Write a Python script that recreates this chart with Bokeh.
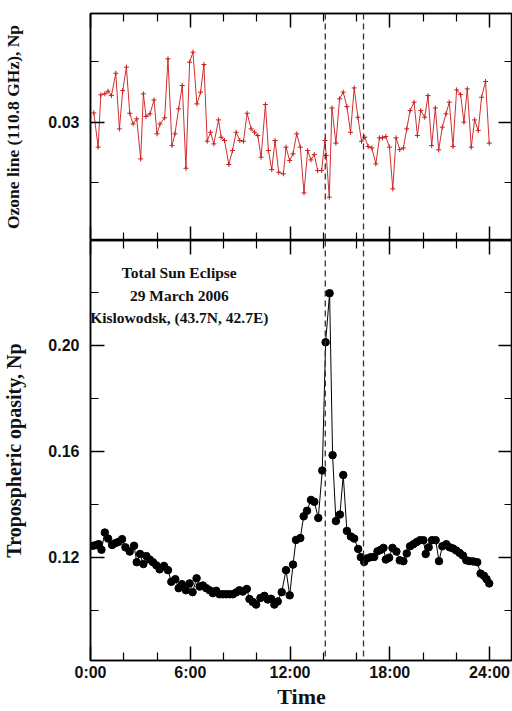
from bokeh.plotting import figure
from bokeh.layouts import column
from bokeh.models import (Range1d, LinearAxis, FixedTicker, CustomJSTickFormatter,
                          Span, Label)
from bokeh.embed import file_html
from bokeh.resources import INLINE

# ---------------- data ----------------
oz_time = [0.20, 0.46, 0.62, 0.86, 1.06, 1.26, 1.52, 1.74, 1.94, 2.16,
           2.36, 2.56, 2.78, 3.02, 3.18, 3.34, 3.58, 3.82, 4.00, 4.18,
           4.46, 4.66, 4.90, 5.08, 5.30, 5.52, 5.74, 5.96, 6.16, 6.40,
           6.62, 6.82, 7.02, 7.22, 7.42, 7.70, 7.86, 8.06, 8.32, 8.54,
           8.76, 8.98, 9.20, 9.42, 9.66, 9.86, 10.06, 10.26, 10.52, 10.70,
           10.90, 11.10, 11.32, 11.60, 11.76, 11.98, 12.18, 12.40, 12.62, 12.84,
           13.06, 13.26, 13.46, 13.66, 13.90, 14.10, 14.18, 14.36, 14.52, 14.76,
           14.98, 15.20, 15.42, 15.64, 15.86, 16.08, 16.30, 16.50, 16.70, 16.92,
           17.16, 17.38, 17.56, 17.76, 17.98, 18.18, 18.38, 18.60, 18.82, 19.02,
           19.22, 19.46, 19.66, 19.86, 20.10, 20.30, 20.52, 20.74, 20.94, 21.16,
           21.38, 21.58, 21.80, 22.02, 22.26, 22.46, 22.66, 22.90, 23.10, 23.32,
           23.52, 23.76, 23.98]
oz_val = [0.03077, 0.02794, 0.03226, 0.03234, 0.03256, 0.03220, 0.03404, 0.02945, 0.03261, 0.03454,
          0.03074, 0.02986, 0.03028, 0.02697, 0.03234, 0.03047, 0.03069, 0.03184, 0.02904, 0.02986,
          0.03036, 0.03523, 0.02807, 0.02904, 0.03110, 0.03303, 0.02620, 0.03495, 0.03578, 0.03151,
          0.03248, 0.03476, 0.02843, 0.02917, 0.02821, 0.03019, 0.02876, 0.02849, 0.02651, 0.02766,
          0.02917, 0.02849, 0.02843, 0.03074, 0.02945, 0.02917, 0.02890, 0.02711, 0.03146, 0.02766,
          0.02609, 0.02849, 0.02587, 0.02574, 0.02794, 0.02684, 0.02739, 0.02904, 0.02794, 0.02417,
          0.02766, 0.02689, 0.02733, 0.02601, 0.02601, 0.02849, 0.02725, 0.02381, 0.03118, 0.02827,
          0.03193, 0.03248, 0.03129, 0.02917, 0.03283, 0.03041, 0.02843, 0.02876, 0.02799, 0.02788,
          0.02656, 0.02871, 0.02871, 0.02882, 0.02794, 0.02450, 0.02871, 0.02774, 0.02788, 0.02945,
          0.03096, 0.03165, 0.02890, 0.03096, 0.03041, 0.03220, 0.02807, 0.03118, 0.02772, 0.02959,
          0.03069, 0.03165, 0.02799, 0.03267, 0.03228, 0.03000, 0.03275, 0.02794, 0.03019, 0.02931,
          0.03206, 0.03336, 0.02827]

op_time = [0.16, 0.36, 0.50, 0.66, 0.86, 1.06, 1.30, 1.50, 1.70, 1.90,
           2.10, 2.36, 2.62, 2.78, 2.98, 3.18, 3.36, 3.56, 3.76, 3.96,
           4.16, 4.42, 4.66, 4.86, 5.10, 5.30, 5.50, 5.74, 5.96, 6.14,
           6.38, 6.56, 6.76, 6.96, 7.16, 7.36, 7.56, 7.76, 7.96, 8.16,
           8.36, 8.56, 8.76, 8.96, 9.16, 9.40, 9.56, 9.76, 9.96, 10.22,
           10.46, 10.66, 10.86, 11.06, 11.26, 11.50, 11.76, 11.98, 12.18, 12.36,
           12.62, 12.82, 13.02, 13.26, 13.46, 13.70, 13.94, 14.14, 14.38, 14.56,
           14.76, 15.00, 15.20, 15.42, 15.66, 15.86, 16.10, 16.26, 16.46, 16.66,
           16.86, 17.06, 17.26, 17.46, 17.62, 17.76, 17.96, 18.16, 18.40, 18.60,
           18.82, 19.02, 19.22, 19.42, 19.62, 19.82, 20.02, 20.16, 20.34, 20.54,
           20.76, 20.96, 21.16, 21.40, 21.60, 21.80, 22.00, 22.20, 22.40, 22.60,
           22.80, 23.02, 23.26, 23.46, 23.66, 23.82, 23.98]
op_val = [0.1243, 0.1246, 0.1249, 0.1228, 0.1293, 0.1270, 0.1246, 0.1253, 0.1258, 0.1268,
          0.1237, 0.1221, 0.1243, 0.1181, 0.1212, 0.1174, 0.1204, 0.1191, 0.1181, 0.1169,
          0.1154, 0.1167, 0.1151, 0.1107, 0.1117, 0.1083, 0.1098, 0.1075, 0.1101, 0.1068,
          0.1120, 0.1089, 0.1093, 0.1083, 0.1075, 0.1064, 0.1073, 0.1060, 0.1060, 0.1060,
          0.1060, 0.1060, 0.1067, 0.1075, 0.1070, 0.1080, 0.1042, 0.1031, 0.1021, 0.1046,
          0.1054, 0.1040, 0.1043, 0.1021, 0.1033, 0.1068, 0.1151, 0.1056, 0.1172, 0.1265,
          0.1272, 0.1354, 0.1375, 0.1416, 0.1409, 0.1348, 0.1527, 0.2011, 0.2196, 0.1585,
          0.1336, 0.1361, 0.1510, 0.1299, 0.1278, 0.1270, 0.1231, 0.1200, 0.1182, 0.1196,
          0.1200, 0.1201, 0.1222, 0.1228, 0.1235, 0.1191, 0.1198, 0.1235, 0.1221, 0.1188,
          0.1185, 0.1214, 0.1241, 0.1249, 0.1257, 0.1264, 0.1264, 0.1212, 0.1237, 0.1264,
          0.1264, 0.1185, 0.1241, 0.1249, 0.1237, 0.1233, 0.1225, 0.1216, 0.1206, 0.1188,
          0.1185, 0.1184, 0.1181, 0.1138, 0.1130, 0.1117, 0.1101]

eclipse_marks = [14.12, 16.42]
x_major = [0, 6, 12, 18, 24]
x_minor = [2, 4, 8, 10, 14, 16, 20, 22]
oz_major = [0.03]
oz_minor = [0.025, 0.035]
op_major = [0.12, 0.16, 0.20]
op_minor = [0.10, 0.14, 0.18, 0.22]
annotation_lines = ["Total Sun Eclipse", "29 March 2006", "Kislowodsk, (43.7N, 42.7E)"]

# ---------------- helpers ----------------
BLANK = CustomJSTickFormatter(code="return ''")
SERIF = "Liberation Serif"
SANS = "Liberation Sans"


def style_axis(ax, ticks, minor, formatter):
    ax.ticker = FixedTicker(ticks=ticks, minor_ticks=minor)
    ax.formatter = formatter
    ax.major_tick_in = 14
    ax.major_tick_out = 0
    ax.minor_tick_in = 8
    ax.minor_tick_out = 0
    ax.axis_line_color = "black"
    ax.axis_line_width = 1.5
    ax.major_tick_line_color = "black"
    ax.major_tick_line_width = 1.5
    ax.minor_tick_line_color = "black"
    ax.minor_tick_line_width = 1.2
    ax.major_label_text_font = SANS
    ax.major_label_text_font_style = "bold"
    ax.major_label_text_font_size = "16px"
    ax.major_label_text_color = "#111111"
    ax.axis_label_text_font = SERIF
    ax.axis_label_text_font_style = "bold"
    ax.axis_label_text_color = "#111111"


def blank_axis(ax):
    ax.major_label_standoff = 0
    ax.major_label_text_font_size = "1px"


def base_fig(h, yr, top, bottom):
    p = figure(width=512, height=h, x_range=Range1d(0, 25.38), y_range=yr,
               output_backend="svg", toolbar_location=None,
               min_border_left=89, min_border_right=0,
               min_border_top=top, min_border_bottom=bottom,
               background_fill_color="white", border_fill_color="white",
               outline_line_color="black", outline_line_width=1.5)
    p.grid.visible = False
    for loc in eclipse_marks:
        p.add_layout(Span(location=loc, dimension="height", line_color="#333333",
                          line_dash="6 4", line_width=1.3))
    return p


XFMT = CustomJSTickFormatter(code="return Math.round(tick) + ':00'")
YFMT = CustomJSTickFormatter(code="return tick.toFixed(2)")

# ---------------- top panel ----------------
top = base_fig(240, Range1d(0.02024, 0.03897), 13, 0)
top.line(oz_time, oz_val, line_color="#d03030", line_width=1)
top.scatter(oz_time, oz_val, marker="cross", size=5, line_color="#c81e1e", line_width=1)

style_axis(top.xaxis[0], x_major, x_minor, BLANK)
blank_axis(top.xaxis[0])
ax = LinearAxis()
style_axis(ax, x_major, x_minor, BLANK)
blank_axis(ax)
top.add_layout(ax, "above")

style_axis(top.yaxis[0], oz_major, oz_minor, YFMT)
top.yaxis[0].major_label_standoff = 11
top.yaxis[0].axis_label = "Ozone line (110.8 GHz), Np"
top.yaxis[0].axis_label_text_font_size = "17.5px"
top.yaxis[0].axis_label_standoff = 22
ay = LinearAxis()
style_axis(ay, oz_major, oz_minor, BLANK)
blank_axis(ay)
top.add_layout(ay, "right")

# ---------------- bottom panel ----------------
bot = base_fig(471, Range1d(0.081, 0.2395), 0, 44)
bot.line(op_time, op_val, line_color="black", line_width=1)
bot.scatter(op_time, op_val, marker="circle", size=7.5, fill_color="black", line_color="black")

style_axis(bot.xaxis[0], x_major, x_minor, XFMT)
bot.xaxis[0].major_label_standoff = 3
bot.xaxis[0].axis_label = "Time"
bot.xaxis[0].axis_label_text_font_size = "22px"
bot.xaxis[0].axis_label_standoff = 0
ax2 = LinearAxis()
style_axis(ax2, x_major, x_minor, BLANK)
blank_axis(ax2)
bot.add_layout(ax2, "above")

style_axis(bot.yaxis[0], op_major, op_minor, YFMT)
bot.yaxis[0].major_label_standoff = 11
bot.yaxis[0].axis_label = "Tropospheric opasity, Np"
bot.yaxis[0].axis_label_text_font_size = "20px"
bot.yaxis[0].axis_label_standoff = 20
ay2 = LinearAxis()
style_axis(ay2, op_major, op_minor, BLANK)
blank_axis(ay2)
bot.add_layout(ay2, "right")

for txt, yv in zip(annotation_lines, [0.2273, 0.2188, 0.2103]):
    bot.add_layout(Label(x=5.34, y=yv, text=txt, text_align="center", text_baseline="middle",
                         text_font=SERIF, text_font_style="bold", text_font_size="15.5px",
                         text_color="#111111"))

layout = column(top, bot, spacing=0)
open("out.html", "w").write(file_html(layout, INLINE))
